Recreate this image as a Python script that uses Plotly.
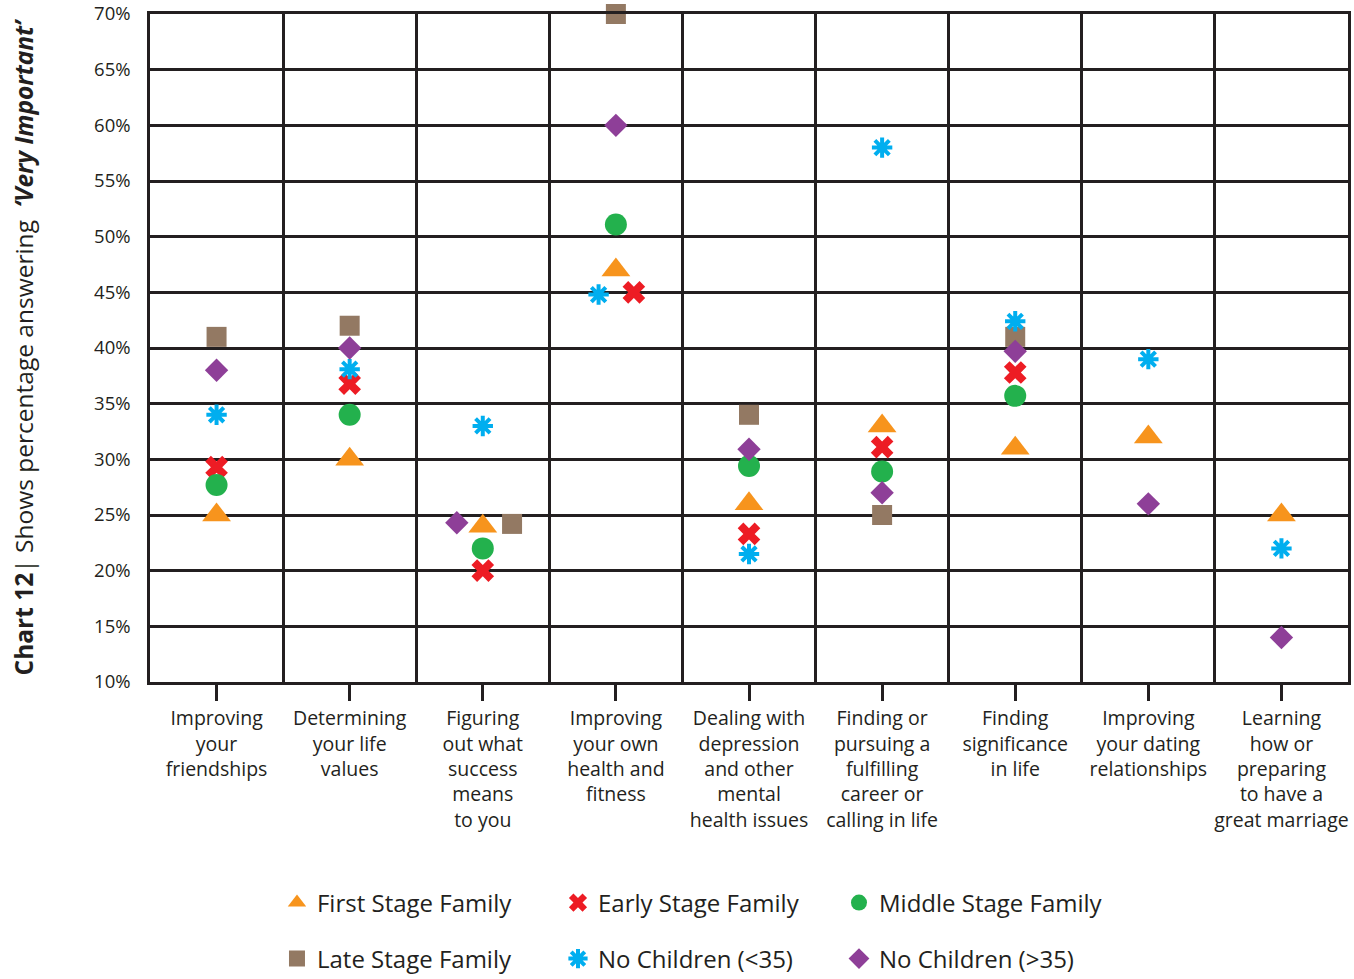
import plotly.graph_objects as go

categories = [
    "Improving<br>your<br>friendships",
    "Determining<br>your life<br>values",
    "Figuring<br>out what<br>success<br>means<br>to you",
    "Improving<br>your own<br>health and<br>fitness",
    "Dealing with<br>depression<br>and other<br>mental<br>health issues",
    "Finding or<br>pursuing a<br>fulfilling<br>career or<br>calling in life",
    "Finding<br>significance<br>in life",
    "Improving<br>your dating<br>relationships",
    "Learning<br>how or<br>preparing<br>to have a<br>great marriage",
]

first_stage = [25, 30, 24, 47, 26, 33, 31, 32, 25]
early_stage = [29.3, 36.8, 20, 45, 23.3, 31.1, 37.8, None, None]
middle_stage = [27.7, 34, 22, 51.1, 29.4, 28.9, 35.7, None, None]
late_stage = [41, 42, 24.2, 70, 34, 25, 41, None, None]
no_children_young = [34, 38.1, 33, 44.8, 21.5, 58, 42.4, 39, 22]
no_children_old = [38, 40, 24.3, 60, 30.9, 27, 39.7, 26, 14]

y_ticks = [10, 15, 20, 25, 30, 35, 40, 45, 50, 55, 60, 65, 70]
y_tick_labels = ["10%", "15%", "20%", "25%", "30%", "35%", "40%", "45%",
                 "50%", "55%", "60%", "65%", "70%"]

# horizontal nudges (style only) to avoid overlaps, in category units
nudges = {
    "Late Stage Family": {2: 0.22},
    "No Children (>35)": {2: -0.195},
    "No Children (<35)": {3: -0.13},
    "Early Stage Family": {3: 0.135},
}

INK = "#231F20"
FONT = "Open Sans"

series = [
    ("First Stage Family", first_stage, "triangle-up", "#F7941D", 25, "legend"),
    ("Early Stage Family", early_stage, "x", "#ED1C24", 20, "legend"),
    ("Middle Stage Family", middle_stage, "circle", "#23B14D", 22, "legend"),
    ("Late Stage Family", late_stage, "square", "#937963", 20, "legend2"),
    ("No Children (<35)", no_children_young, "asterisk-open", "#00AEEF", 17, "legend2"),
    ("No Children (>35)", no_children_old, "diamond", "#8E3F98", 18, "legend2"),
]

fig = go.Figure()
for name, vals, sym, col, size, lg in series:
    xs = [i + nudges.get(name, {}).get(i, 0) for i in range(len(categories))]
    marker = dict(symbol=sym, color=col, size=size)
    if sym.endswith("-open"):
        marker["line"] = dict(color=col, width=4)
    else:
        marker["line"] = dict(width=0)
    fig.add_trace(go.Scatter(
        x=xs, y=vals, mode="markers", name=name, marker=marker,
        cliponaxis=False, legend=lg,
    ))

legend_common = dict(orientation="h", x=0.106, xanchor="left", yanchor="middle",
                     yref="container",
                     entrywidth=236, entrywidthmode="pixels",
                     font=dict(size=24, color=INK, family=FONT))

fig.update_layout(
    width=1354, height=979,
    margin=dict(l=150, r=6, t=14, b=297, autoexpand=False),
    plot_bgcolor="white", paper_bgcolor="white",
    font=dict(family=FONT, color=INK),
    legend=dict(y=1 - 903 / 979, **legend_common),
    legend2=dict(y=1 - 959 / 979, **legend_common),
)

fig.update_xaxes(
    range=[-0.5, len(categories) - 0.5],
    tickmode="array", tickvals=list(range(len(categories))), ticktext=categories,
    ticks="outside", ticklen=16, tickwidth=2.5, tickcolor=INK,
    tickfont=dict(size=19.5, color=INK, family=FONT),
    showgrid=False, zeroline=False, automargin=False,
    showline=True, linecolor=INK, linewidth=2.5, mirror=True,
    minor=dict(tickmode="array",
               tickvals=[i + 0.5 for i in range(len(categories) - 1)],
               showgrid=True, gridcolor=INK, gridwidth=2.5, ticks=""),
    ticklabelstandoff=1, ticklabeloverflow="allow",
)

fig.update_yaxes(
    range=[10, 70], tickmode="array", tickvals=y_ticks, ticktext=y_tick_labels,
    showgrid=True, gridcolor=INK, gridwidth=2.5, zeroline=False, automargin=False,
    showline=True, linecolor=INK, linewidth=2.5, mirror=True,
    tickfont=dict(size=18.5, color=INK, family=FONT),
    ticks="", ticklabelstandoff=13, ticklabeloverflow="allow",
    title=dict(
        text="<b>Chart 12</b>| Shows percentage answering  <b><i>‘Very Important’</i></b>",
        font=dict(size=24.5, color=INK, family=FONT), standoff=54,
    ),
)

fig.write_html(
    "out.html",
    config={"displayModeBar": False},
    post_script="document.body.style.margin='0';document.body.style.padding='0';",
)
